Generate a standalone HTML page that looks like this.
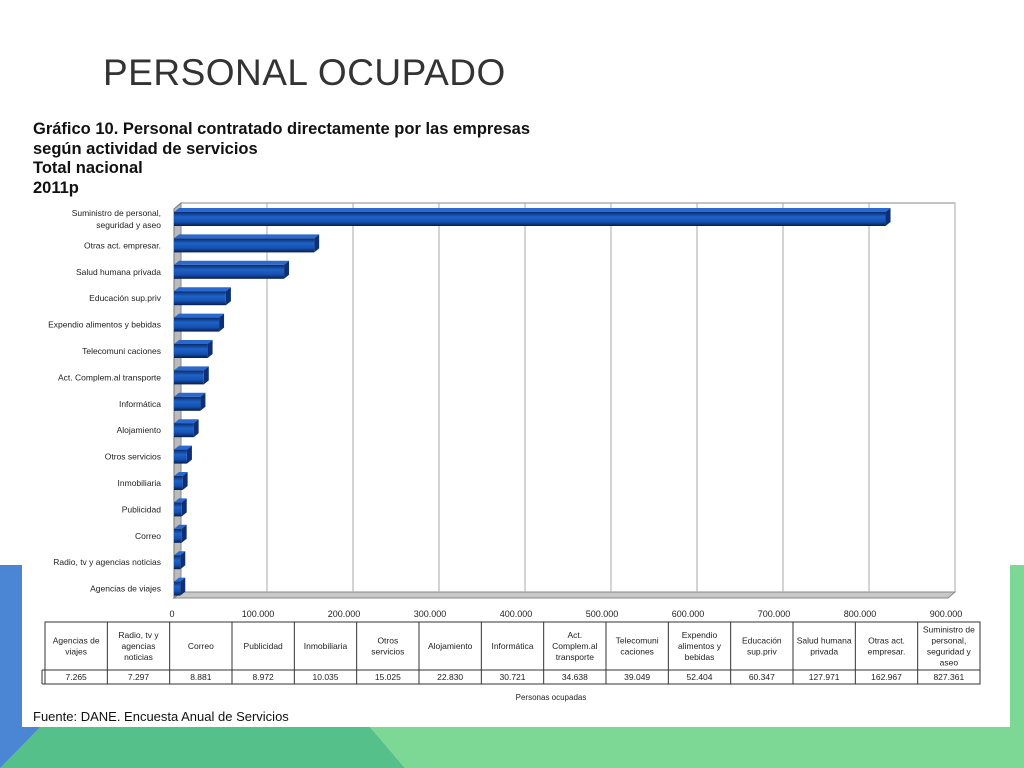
<!DOCTYPE html>
<html><head><meta charset="utf-8"><style>
body{margin:0;width:1024px;height:768px;overflow:hidden;background:#fff;font-family:"Liberation Sans",sans-serif;position:relative}
</style></head><body>
<svg width="1024" height="768" style="position:absolute;left:0;top:0">
<polygon points="0,565 22,565 22,727 60,727 0,768" fill="#4a86d4"/>
<polygon points="0,768 40,727 370,727 405,768" fill="#56c08a"/>
<polygon points="370,727 1024,727 1024,768 405,768" fill="#7dd896"/>
<rect x="1010" y="565" width="14" height="162" fill="#7dd896"/>
</svg>
<div style="position:absolute;left:103px;top:52px;font-size:37px;color:#333;letter-spacing:0.5px">PERSONAL OCUPADO</div>
<div style="position:absolute;left:33px;top:120px;font-size:16.5px;font-weight:bold;line-height:19.5px;color:#111">Gráfico 10. Personal contratado directamente por las empresas<br>según actividad de servicios<br>Total nacional<br>2011p</div>
<svg id="chart" width="1024" height="768" style="position:absolute;left:0;top:0">
<defs><linearGradient id="bg" x1="0" y1="0" x2="0" y2="1"><stop offset="0" stop-color="#0a2a6a"/><stop offset="0.35" stop-color="#1e63c8"/><stop offset="0.7" stop-color="#1550b0"/><stop offset="1" stop-color="#071d4d"/></linearGradient></defs>
</svg>
<script>
const categories=["Suministro de personal, seguridad y aseo","Otras act. empresar.","Salud humana privada","Educación sup.priv","Expendio alimentos y bebidas","Telecomuni caciones","Act. Complem.al transporte","Informática","Alojamiento","Otros servicios","Inmobiliaria","Publicidad","Correo","Radio, tv y agencias noticias","Agencias de viajes"];
const values=[827361,162967,127971,60347,52404,39049,34638,30721,22830,15025,10035,8972,8881,7297,7265];
const tickValues=[0,100000,200000,300000,400000,500000,600000,700000,800000,900000];
const tickLabels=["0","100.000","200.000","300.000","400.000","500.000","600.000","700.000","800.000","900.000"];
const tableHeaders=["Agencias de viajes","Radio, tv y agencias noticias","Correo","Publicidad","Inmobiliaria","Otros servicios","Alojamiento","Informática","Act. Complem.al transporte","Telecomuni caciones","Expendio alimentos y bebidas","Educación sup.priv","Salud humana privada","Otras act. empresar.","Suministro de personal, seguridad y aseo"];
const tableValues=["7.265","7.297","8.881","8.972","10.035","15.025","22.830","30.721","34.638","39.049","52.404","60.347","127.971","162.967","827.361"];
const NS="http://www.w3.org/2000/svg",svg=document.getElementById('chart');
const X0=174,SC=86/100000,DX=7,DY=6,TOP=203,BOT=598;
const x=v=>X0+v*SC, y=i=>219+i*26.4;
function mk(t,a,p){const e=document.createElementNS(NS,t);for(const k in a)e.setAttribute(k,a[k]);(p||svg).appendChild(e);return e;}
// frame
let f=mk('path',{d:`M${X0} ${BOT} L${X0+DX} ${BOT-DY} L${x(900000)+DX} ${BOT-DY} L${x(900000)} ${BOT} Z`,fill:'#c8c8c8',stroke:'#888'});

let w=mk('path',{d:`M${X0} ${BOT} L${X0} ${TOP+DY} L${X0+DX} ${TOP} L${X0+DX} ${BOT-DY} Z`,fill:'#bbb',stroke:'#777'});

let r=mk('rect',{x:X0+DX,y:TOP,width:x(900000)-X0,height:BOT-DY-TOP,fill:'none',stroke:'#888'});

tickValues.forEach((v,i)=>{
 if(i>0){const g=mk('line',{x1:x(v)+DX,y1:TOP,x2:x(v)+DX,y2:BOT-DY,stroke:'#aaa'});
 }
 const t=mk('text',{x:x(v)-2,y:617,'font-size':9,'text-anchor':'middle',fill:'#222'});t.textContent=tickLabels[i];
 
});
values.forEach((v,i)=>{
 const yc=y(i),h=14,xe=x(v);
 const g=mk('g',{});
 
 mk('path',{d:`M${X0} ${yc-h/2} L${X0+5} ${yc-h/2-4} L${xe+5} ${yc-h/2-4} L${xe} ${yc-h/2} Z`,fill:'#2a6ad0'},g);
 mk('path',{d:`M${xe} ${yc-h/2} L${xe+5} ${yc-h/2-4} L${xe+5} ${yc+h/2-4} L${xe} ${yc+h/2} Z`,fill:'#0c2f78'},g);
 mk('rect',{x:X0,y:yc-h/2,width:xe-X0,height:h,fill:'url(#bg)'},g);
 const lines=categories[i]==="Suministro de personal, seguridad y aseo"?["Suministro de personal,","seguridad y aseo"]:[categories[i]];
 lines.forEach((s,k)=>{const t=mk('text',{x:161,y:yc+3+(k-(lines.length-1)/2)*12,'font-size':8.5,'text-anchor':'end',fill:'#222'});t.textContent=s;
 });
});
// table
const TX=45,TW=(980-45)/15;
let tb=mk('rect',{x:TX,y:622,width:980-TX,height:62,fill:'none',stroke:'#333'});

mk('line',{x1:TX-3,y1:670,x2:980,y2:670,stroke:'#333'});mk('line',{x1:TX-3,y1:684,x2:980,y2:684,stroke:'#333'});mk('line',{x1:TX-3,y1:670,x2:TX-3,y2:684,stroke:'#333'});
function wrap(s,n){const ws=s.split(' '),o=[];let c='';ws.forEach(w=>{if(c&&(c+' '+w).length>n){o.push(c);c=w;}else c=c?c+' '+w:w;});o.push(c);return o;}
tableHeaders.forEach((hd,i)=>{
 const cx=TX+TW*i+TW/2;
 if(i>0)mk('line',{x1:TX+TW*i,y1:622,x2:TX+TW*i,y2:684,stroke:'#333'});
 const ls=wrap(hd,13);
 ls.forEach((s,k)=>{const t=mk('text',{x:cx,y:649+(k-(ls.length-1)/2)*11,'font-size':8.5,'text-anchor':'middle',fill:'#222'});t.textContent=s;
 });
 const t=mk('text',{x:cx,y:680,'font-size':8.5,'text-anchor':'middle',fill:'#222'});t.textContent=tableValues[i];
 
});
let at=mk('text',{x:551,y:700,'font-size':8,'text-anchor':'middle',fill:'#222'});at.textContent='Personas ocupadas';

let src=mk('text',{x:33,y:721,'font-size':13,fill:'#111'});src.textContent='Fuente: DANE. Encuesta  Anual de Servicios';

</script>
</body></html>
